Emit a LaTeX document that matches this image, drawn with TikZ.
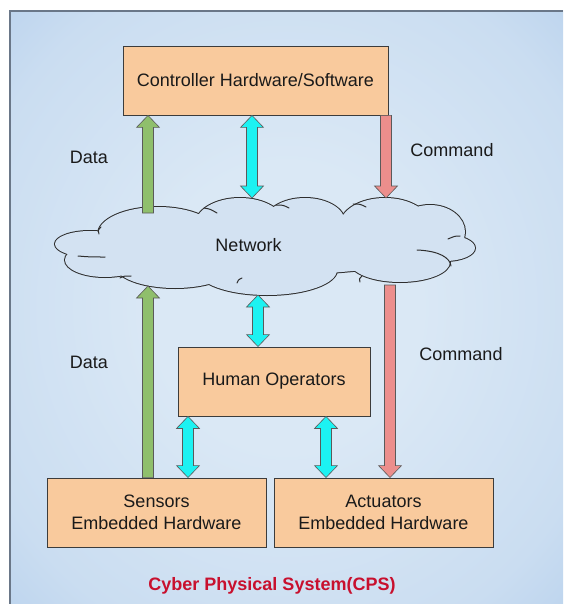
\documentclass[tikz,border=0pt]{standalone}
\usepackage{fontspec}
\setmainfont{Liberation Sans}
\usetikzlibrary{calc}

\definecolor{boxfill}{HTML}{F9CA9D}
\definecolor{boxline}{HTML}{3C3C3C}
\definecolor{cloudfill}{HTML}{D3E2F2}
\definecolor{cloudline}{HTML}{2E2E2E}
\definecolor{datagreen}{HTML}{8FBF6C}
\definecolor{linkcyan}{HTML}{1CF2F2}
\definecolor{cmdred}{HTML}{EC8E8C}
\definecolor{arrline}{HTML}{5A5A5A}
\definecolor{titlered}{HTML}{C8102E}
\definecolor{txt}{HTML}{1A1A1A}
\definecolor{frameline}{HTML}{6A7788}
\definecolor{bgA}{HTML}{DAE8F5}
\definecolor{bgB}{HTML}{CADDF1}
\definecolor{bgC}{HTML}{A6C5E8}
\definecolor{bgD}{HTML}{8AB1DF}

\pgfdeclareradialshading{panelshade}{\pgfpoint{0bp}{0bp}}{%
  color(0bp)=(bgA);
  color(12bp)=(bgA);
  color(30bp)=(bgB);
  color(47bp)=(bgC);
  color(70bp)=(bgD)}

% block arrow dimensions
\def\ArShaft{5.5pt}
\def\ArHead{11.5pt}
\def\ArLen{12pt}

% single arrow pointing up: style, tail (below), tip (above)
\newcommand\UpArrow[3]{\path[#1] let \p1=(#2),\p2=(#3) in
  (\x1-\ArShaft,\y1) -- (\x1-\ArShaft,\y2-\ArLen) -- (\x1-\ArHead,\y2-\ArLen)
  -- (\x1,\y2) -- (\x1+\ArHead,\y2-\ArLen) -- (\x1+\ArShaft,\y2-\ArLen)
  -- (\x1+\ArShaft,\y1) -- cycle;}
% single arrow pointing down: style, tail (above), tip (below)
\newcommand\DownArrow[3]{\path[#1] let \p1=(#2),\p2=(#3) in
  (\x1-\ArShaft,\y1) -- (\x1-\ArShaft,\y2+\ArLen) -- (\x1-\ArHead,\y2+\ArLen)
  -- (\x1,\y2) -- (\x1+\ArHead,\y2+\ArLen) -- (\x1+\ArShaft,\y2+\ArLen)
  -- (\x1+\ArShaft,\y1) -- cycle;}
% double arrow: style, upper tip, lower tip
\newcommand\BothArrow[3]{\path[#1] let \p1=(#2),\p2=(#3) in
  (\x1,\y1) -- (\x1+\ArHead,\y1-\ArLen) -- (\x1+\ArShaft,\y1-\ArLen)
  -- (\x1+\ArShaft,\y2+\ArLen) -- (\x1+\ArHead,\y2+\ArLen) -- (\x1,\y2)
  -- (\x1-\ArHead,\y2+\ArLen) -- (\x1-\ArShaft,\y2+\ArLen)
  -- (\x1-\ArShaft,\y1-\ArLen) -- (\x1-\ArHead,\y1-\ArLen) -- cycle;}

\begin{document}
\begin{tikzpicture}[x=1pt,y=-1pt,
  hwbox/.style={draw=boxline, line width=0.9pt, fill=boxfill, inner sep=0pt,
    align=center, text=txt, font=\fontsize{18}{22}\selectfont},
  label/.style={text=txt, inner sep=0pt, font=\fontsize{18}{22}\selectfont},
  greenarr/.style={fill=datagreen, draw=arrline, line width=0.6pt},
  cyanarr/.style={fill=linkcyan, draw=arrline, line width=0.6pt},
  redarr/.style={fill=cmdred, draw=arrline, line width=0.6pt},
  puffline/.style={cloudline, line width=1pt, line cap=round}]

\useasboundingbox (0,0) rectangle (563,604);
\fill[white] (0,0) rectangle (563,604);
\shade[shading=panelshade] (10,11) rectangle (563,604);
\draw[frameline, line width=1.2pt] (10,604) -- (10,11) -- (563,11);

% network cloud: union of puffs, outline first then fill
\def\puffs{158/234/60/27, 240/225/45/27, 305/222/40/24, 385/225/45/27,
  430/232/35/27, 445/248/30/13, 400/262/50/20, 267/270/70/25,
  175/265/60/23, 105/260/40/17, 90/244/35/13, 263/245/180/30}
\foreach \cx/\cy/\rx/\ry in \puffs
  \draw[cloudline, line width=2pt] (\cx,\cy) ellipse [x radius=\rx, y radius=\ry];
\foreach \cx/\cy/\rx/\ry in \puffs
  \fill[cloudfill] (\cx,\cy) ellipse [x radius=\rx, y radius=\ry];
% inner puff strokes
\draw[puffline] (204,208) .. controls (210,209) .. (217,213);
\draw[puffline] (276,205) .. controls (283,205) .. (289,208);
\draw[puffline] (353,204) .. controls (360,204) .. (366,207);
\draw[puffline] (417,250) .. controls (440,251) and (450,258) .. (451,266);
\draw[puffline] (460,236) .. controls (455,236) .. (448,239);
\draw[puffline] (360,282) .. controls (359,279) .. (362,276);
\draw[puffline] (237,283) .. controls (238,280) .. (242,278);
\draw[puffline] (120,278) .. controls (124,276) .. (131,276);
\draw[puffline] (78,256) .. controls (90,257) .. (105,257);
\draw[puffline] (99,234) .. controls (98,230) .. (101,227);

\node[label] (net) at (248.5,245) {Network};

% hardware / software blocks
\node[hwbox, minimum width=265pt, minimum height=69pt] (ctrl) at (255.5,80.5)
  {Controller Hardware/Software};
\node[hwbox, minimum width=192pt, minimum height=69pt] (human) at (274,381.5)
  {Human Operators};
\node[hwbox, minimum width=219pt, minimum height=69pt] (sens) at (156.5,512.5)
  {Sensors\\Embedded Hardware};
\node[hwbox, minimum width=219pt, minimum height=69pt] (act) at (383.5,512.5)
  {Actuators\\Embedded Hardware};

% arrow columns and ends on the cloud
\coordinate (xg) at (148,0);
\coordinate (xct) at (252,0);
\coordinate (xrt) at (386,0);
\coordinate (xcm) at (258,0);
\coordinate (xrb) at (390,0);
\coordinate (xcl) at (188,0);
\coordinate (xcr) at (326,0);
\coordinate (gTail) at (148,213);
\coordinate (cTopTip) at (252,198);
\coordinate (rTopTip) at (386,198);
\coordinate (gTip) at (148,286);
\coordinate (cMidTip) at (258,295);
\coordinate (rTail) at (390,285);

\UpArrow{greenarr}{gTail}{xg |- ctrl.south}
\BothArrow{cyanarr}{xct |- ctrl.south}{cTopTip}
\DownArrow{redarr}{xrt |- ctrl.south}{rTopTip}
\UpArrow{greenarr}{xg |- sens.north}{gTip}
\BothArrow{cyanarr}{cMidTip}{xcm |- human.north}
\DownArrow{redarr}{rTail}{xrb |- act.north}
\BothArrow{cyanarr}{xcl |- human.south}{xcl |- sens.north}
\BothArrow{cyanarr}{xcr |- human.south}{xcr |- act.north}

% flow labels
\node[label] (d1) at (89,157) {Data};
\node[label] (c1) at (452,150) {Command};
\node[label] (d2) at (89,362) {Data};
\node[label] (c2) at (461,354) {Command};

\node[text=titlered, inner sep=0pt, font=\bfseries\fontsize{18}{21}\selectfont]
  (title) at (272,586) {Cyber Physical System(CPS)};
\end{tikzpicture}
\end{document}
